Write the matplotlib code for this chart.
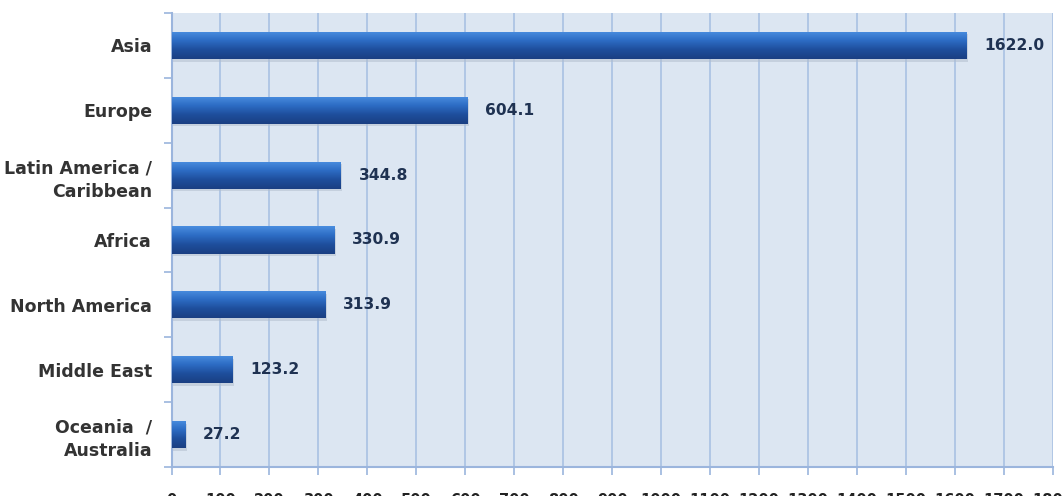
import matplotlib
matplotlib.use("Agg")
import matplotlib.pyplot as plt
import numpy as np
from matplotlib.colors import LinearSegmentedColormap

categories = ["Asia", "Europe", "Latin America /\nCaribbean", "Africa",
              "North America", "Middle East", "Oceania  /\nAustralia"]
values = [1622.0, 604.1, 344.8, 330.9, 313.9, 123.2, 27.2]
xticks = list(range(0, 1801, 100))

plt.rcParams['font.family'] = ['DejaVu Sans']

fig = plt.figure(figsize=(10.62, 4.96), dpi=100)
ax = fig.add_axes([171.5/1062, 1 - 467/496, (1053-171.5)/1062, (467-13)/496])
ax.set_facecolor('#dce6f2')

n = len(categories)
ypos = np.arange(n)
bars = ax.barh(ypos, values, height=0.42, color='#2a62b8', zorder=3)

grad = np.linspace(0, 1, 256).reshape(-1, 1)
cmap = LinearSegmentedColormap.from_list('g', ['#4a8ee0', '#2d6cc4', '#1e4e9c', '#1a3f82'])
for b in bars:
    x0, y0 = b.get_x(), b.get_y()
    w, h = b.get_width(), b.get_height()
    im = ax.imshow(grad, extent=[x0, x0 + w, y0 + h, y0], cmap=cmap, aspect='auto', zorder=4)
    im.set_clip_path(b)
    ax.barh(y0 + h / 2 + 0.04, w, height=h, left=x0 + 4, color='#b0bccc', alpha=0.5, zorder=2)

for y, v in zip(ypos, values):
    ax.text(v + 37, y, f"{v:.1f}", va='center', ha='left', fontsize=11.2,
            fontweight='bold', color='#1f3252', zorder=5)

ax.set_xlim(0, 1800)
ax.set_ylim(n - 0.5, -0.5)
ax.set_xticks(xticks)
ax.set_xticklabels([str(t) for t in xticks], fontsize=10.5, fontweight='bold', color='#222222')
ax.set_yticks(ypos)
ax.set_yticklabels(categories, fontsize=12.5, fontweight='bold', color='#333333',
                   linespacing=1.4)
ax.set_yticks(np.arange(-0.5, n, 1), minor=True)
ax.tick_params(axis='y', which='major', length=0, pad=14)
ax.tick_params(axis='y', which='minor', length=6, color='#9bb5dd', width=1.2)
ax.tick_params(axis='x', length=6, color='#9bb5dd', width=1.2, pad=12.5)
ax.grid(axis='x', color='#a9c1e3', linewidth=1.2, zorder=1)
ax.set_axisbelow(True)
for s in ['top', 'right']:
    ax.spines[s].set_visible(False)
for s in ['left', 'bottom']:
    ax.spines[s].set_color('#9bb5dd')
    ax.spines[s].set_linewidth(1.5)
for lab in ax.get_yticklabels():
    lab.set_multialignment('right')

fig.savefig('out.png', dpi=100)
